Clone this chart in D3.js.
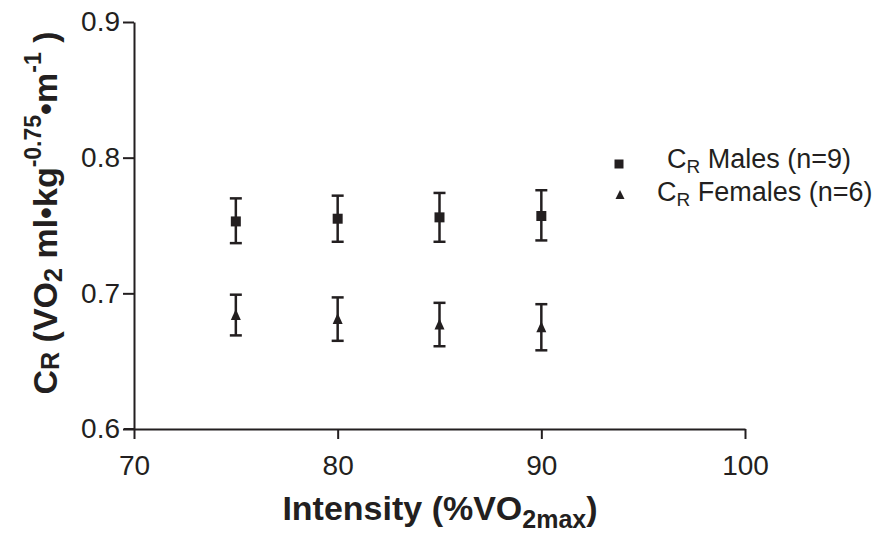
<!DOCTYPE html>
<meta charset="utf-8">
<style type="text/css">
body { margin: 0; background: #fff; }
svg text { font-family: "Liberation Sans", Arial, sans-serif; fill: #231f20; }
.axis path, .axis line { stroke: #231f20; stroke-width: 2; }
.axis text { font-size: 28px; font-family: "Liberation Sans", Arial, sans-serif; fill: #231f20; }
.err { stroke: #231f20; stroke-width: 2.5; }
</style>
<body>
<div id="chart"></div>
<script src="https://d3js.org/d3.v7.min.js"></script>
<script>
// intensities (%VO2max)
var intensity = [75, 80, 85, 90];
// males
var maleMean = [0.753, 0.755, 0.756, 0.757];
var maleLow  = [0.737, 0.738, 0.738, 0.739];
var maleHigh = [0.770, 0.772, 0.774, 0.776];
// females
var femMean = [0.684, 0.681, 0.677, 0.675];
var femLow  = [0.669, 0.665, 0.661, 0.658];
var femHigh = [0.699, 0.697, 0.693, 0.692];

var xTicks = [70, 80, 90, 100];
var yTicks = [0.6, 0.7, 0.8, 0.9];

var margin = {top: 22, left: 134},
    width = 745 - 134,
    height = 429 - 22;

var svg = d3.select("#chart").append("svg")
    .attr("width", 891)
    .attr("height", 535);

var g = svg.append("g")
    .attr("transform", "translate(" + margin.left + "," + margin.top + ")");

var xScale = d3.scaleLinear().domain([70, 100]).range([0, width]);
var yScale = d3.scaleLinear().domain([0.6, 0.9]).range([height, 0]);

g.append("g")
    .attr("class", "x axis")
    .attr("transform", "translate(0," + height + ")")
    .call(d3.axisBottom(xScale).tickValues(xTicks).tickSize(10).tickSizeOuter(0).tickPadding(16));

g.append("g")
    .attr("class", "y axis")
    .call(d3.axisLeft(yScale).tickValues(yTicks).tickFormat(d3.format(".1f")).tickSize(11).tickSizeOuter(0).tickPadding(3));

// x axis runs a little past the y axis, like the original
g.append("line")
    .attr("x1", -10).attr("x2", 0)
    .attr("y1", height).attr("y2", height)
    .attr("stroke", "#231f20").attr("stroke-width", 2);

function drawSeries(mean, low, high, shape) {
  var cap = 6;
  intensity.forEach(function(x, i) {
    var cx = xScale(x);
    g.append("line").attr("class", "err")
      .attr("x1", cx).attr("x2", cx)
      .attr("y1", yScale(low[i])).attr("y2", yScale(high[i]));
    [low[i], high[i]].forEach(function(v) {
      g.append("line").attr("class", "err")
        .attr("x1", cx - cap).attr("x2", cx + cap)
        .attr("y1", yScale(v)).attr("y2", yScale(v));
    });
  });
  g.selectAll(".pt-" + shape.name)
    .data(mean)
    .enter()
    .append("path")
      .attr("class", "pt-" + shape.name)
      .attr("transform", function(d, i) { return "translate(" + xScale(intensity[i]) + "," + yScale(d) + ")"; })
      .attr("d", shape.path)
      .attr("fill", "#231f20");
}

var square = {name: "sq", path: "M-5,-5H5V5H-5Z"};
var tri = {name: "tri", path: "M0,-6L5,5H-5Z"};

drawSeries(maleMean, maleLow, maleHigh, square);
drawSeries(femMean, femLow, femHigh, tri);

// legend
svg.append("path").attr("transform", "translate(619,164)").attr("d", "M-4.5,-4.5H4.5V4.5H-4.5Z").attr("fill", "#231f20");
svg.append("path").attr("transform", "translate(620,195)").attr("d", "M0,-5L4.5,4H-4.5Z").attr("fill", "#231f20");

var l1 = svg.append("text").attr("x", 667).attr("y", 168).attr("font-size", 27);
l1.append("tspan").text("C");
l1.append("tspan").attr("font-size", 19).attr("dy", 5).text("R");
l1.append("tspan").attr("dy", -5).text(" Males (n=9)");

var l2 = svg.append("text").attr("x", 657).attr("y", 201).attr("font-size", 27);
l2.append("tspan").text("C");
l2.append("tspan").attr("font-size", 19).attr("dy", 5).text("R");
l2.append("tspan").attr("dy", -5).text(" Females (n=6)");

// x title
var xt = svg.append("text")
    .attr("x", 440).attr("y", 520)
    .attr("text-anchor", "middle")
    .attr("font-size", 34).attr("font-weight", "bold");
xt.append("tspan").text("Intensity (%VO");
xt.append("tspan").attr("font-size", 25).attr("dy", 8).text("2max");
xt.append("tspan").attr("dy", -8).text(")");

// y title
var yt = svg.append("text")
    .attr("transform", "translate(57,213) rotate(-90)")
    .attr("text-anchor", "middle")
    .attr("font-size", 34).attr("font-weight", "bold");
yt.append("tspan").text("C");
yt.append("tspan").attr("font-size", 25).attr("dy", 2).text("R");
yt.append("tspan").attr("dy", -2).text(" (VO");
yt.append("tspan").attr("font-size", 25).attr("dy", 5).text("2");
yt.append("tspan").attr("dy", -5).text(" ml\u2022kg");
yt.append("tspan").attr("font-size", 23).attr("dy", -16).text("-0.75");
yt.append("tspan").attr("dy", 16).text("\u2022m");
yt.append("tspan").attr("font-size", 23).attr("dy", -16).text("-1");
yt.append("tspan").attr("dy", 16).text(" )");
</script>
</body>
